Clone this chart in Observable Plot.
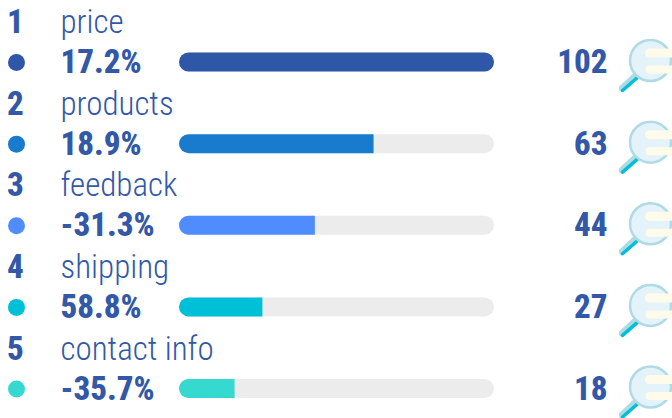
<!DOCTYPE html>
<html>
<head>
<meta charset="utf-8">
<script src="https://cdn.jsdelivr.net/npm/d3@7"></script>
<script src="https://cdn.jsdelivr.net/npm/@observablehq/plot@0.6"></script>
<style>
  html, body { margin: 0; padding: 0; background: #fff; overflow: hidden; }
  svg { display: block; }
  text { font-family: Roboto, sans-serif; font-stretch: 75%; }
</style>
</head>
<body>
<div id="chart"></div>
<script>
const ranks = [1, 2, 3, 4, 5];
const terms = ["price", "products", "feedback", "shipping", "contact info"];
const changes = ["17.2%", "18.9%", "-31.3%", "58.8%", "-35.7%"];
const counts = [102, 63, 44, 27, 18];
const colors = ["#2f57a7", "#187bcd", "#4f8dff", "#00c0d8", "#35d9d0"];

const ink = "#3358a8";
const track = "#ececec";

const rows = ranks.map((rank, i) => ({
  rank, term: terms[i], change: changes[i], count: counts[i], color: colors[i], max: d3.max(counts)
}));

// Magnifying-glass icon shown at the end of each row
const lens = `<svg xmlns="http://www.w3.org/2000/svg" viewBox="0 0 54 54" width="54" height="54">
  <path d="M3 50 L18 36" stroke="#aedbe6" stroke-width="6" stroke-linecap="round"/>
  <path d="M4 52 L19 39" stroke="#00c0d8" stroke-width="3.5" stroke-linecap="round"/>
  <circle cx="32" cy="22" r="20.5" fill="#e3f3f9" stroke="#b0dbe6" stroke-width="2.5"/>
  <path d="M31 10 H54 V19 H31 A4.5 4.5 0 0 1 31 10Z" fill="#fffbea"/>
  <path d="M31 27 H54 V35 H31 A4 4 0 0 1 31 27Z" fill="#fffbea"/>
</svg>`;
const lensSrc = "data:image/svg+xml," + encodeURIComponent(lens);

const chart = Plot.plot({
  width: 672,
  height: 418,
  margin: 0,
  x: { domain: [0, d3.max(counts)], range: [179, 494], axis: null },
  y: { domain: [1, 5], range: [62, 388.5], axis: null },
  marks: [
    // Rank numerals and terms sit on a line above the percentages
    Plot.text(rows, { y: "rank", text: "rank", frameAnchor: "left", dx: 15, dy: -40, textAnchor: "middle",
      fill: ink, fontSize: 33, fontWeight: 800 }),
    Plot.text(rows, { y: "rank", text: "term", frameAnchor: "left", dx: 60, dy: -40, textAnchor: "start",
      fill: ink, fontSize: 33, fontWeight: 300 }),
    Plot.dot(rows, { y: "rank", frameAnchor: "left", dx: 16, r: 8.5, fill: "color" }),
    Plot.text(rows, { y: "rank", text: "change", frameAnchor: "left", dx: 60, textAnchor: "start",
      fill: ink, fontSize: 33, fontWeight: 800 }),
    // Progress bars over a rounded track
    Plot.rect(rows, { x1: 0, x2: "max", y1: "rank", y2: "rank", insetTop: -9.5, insetBottom: -9.5, fill: track, rx: 9.5 }),
    Plot.rect(rows.filter(d => d.count === d.max), { x1: 0, x2: "count", y1: "rank", y2: "rank", insetTop: -9.5, insetBottom: -9.5, fill: "color", rx: 9.5 }),
    Plot.rect(rows.filter(d => d.count < d.max), { x1: 0, x2: "count", y1: "rank", y2: "rank", insetTop: -9.5, insetBottom: -9.5, fill: "color", rx1: 9.5 }),
    Plot.text(rows, { y: "rank", text: "count", frameAnchor: "left", dx: 607, textAnchor: "end",
      fill: ink, fontSize: 33, fontWeight: 800 }),
    Plot.image(rows, { y: "rank", src: () => lensSrc, frameAnchor: "left", dx: 645, dy: 3, width: 54, height: 54 })
  ]
});
document.getElementById("chart").append(chart);
</script>
</body>
</html>
